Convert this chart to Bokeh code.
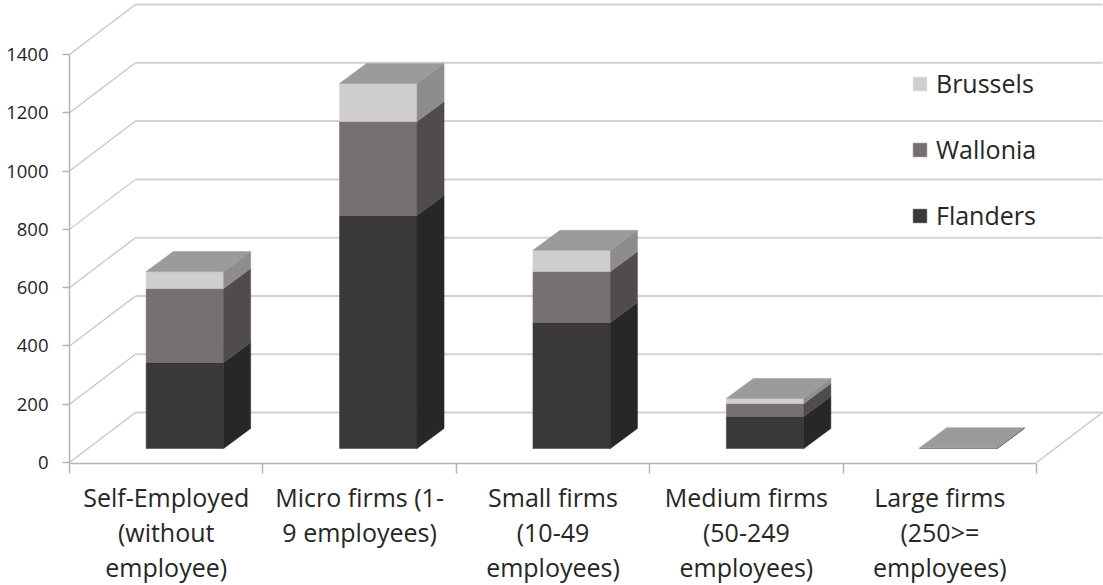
from bokeh.embed import file_html
from bokeh.resources import INLINE
from bokeh.plotting import figure
from bokeh.models import (ColumnDataSource, FixedTicker, Legend, LegendItem,
                          LinearAxis, Range1d)

categories = ["Self-Employed\n(without\nemployee)", "Micro firms (1-\n9 employees)",
              "Small firms\n(10-49\nemployees)", "Medium firms\n(50-249\nemployees)",
              "Large firms\n(250>=\nemployees)"]
flanders = [295, 800, 432, 110, 1]
wallonia = [254, 322, 175, 44, 1]
brussels = [58, 131, 73, 18, 1]
y_ticks = [0, 200, 400, 600, 800, 1000, 1200, 1400]

FRONT = {"Flanders": "#3a3838", "Wallonia": "#767170", "Brussels": "#d0cece"}
SIDE = {"Flanders": "#282727", "Wallonia": "#4f4c4b", "Brussels": "#8e8c8c"}
TOP = "#9b9b9b"
GRID = "#d2d2d2"
AXIS = "#b4b4b4"
FONT = "Open Sans"

# scale: pixels per category and per value unit
PX_X, PX_Y = 193.4, 0.2914
WALL_DX, WALL_DY = 66 / PX_X, 50 / PX_Y
BAR_DX, BAR_DY = 27 / PX_X, 20 / PX_Y
BAR_W = 77.5 / PX_X
BASE_DX, BASE_DY = 18.7 / PX_X, 14 / PX_Y
LEFT, BOTTOM_PX = 69, 463
W, H = 1103, 585

p = figure(frame_width=W - LEFT, frame_height=BOTTOM_PX, output_backend="svg", toolbar_location=None,
           x_range=Range1d(0, (W - LEFT) / PX_X),
           y_range=Range1d(-1 / PX_Y, 462 / PX_Y),
           x_axis_type=None, y_axis_type=None,
           min_border_left=LEFT, min_border_right=0, min_border_top=0,
           min_border_bottom=H - BOTTOM_PX)
p.margin = (0, 0, 0, 0)
p.outline_line_color = None
p.background_fill_color = "white"
p.border_fill_color = "white"

n = len(categories)
# back wall, side wall and floor lines, derived from the value scale
p.segment(x0=[WALL_DX] * len(y_ticks), x1=[n + WALL_DX] * len(y_ticks),
          y0=[t + WALL_DY for t in y_ticks], y1=[t + WALL_DY for t in y_ticks],
          line_color=GRID, line_width=2)
p.segment(x0=[0] * len(y_ticks), x1=[WALL_DX] * len(y_ticks),
          y0=y_ticks, y1=[t + WALL_DY for t in y_ticks],
          line_color="#c4c4c4", line_width=1.2)
p.segment(x0=[n], x1=[n + WALL_DX], y0=[0], y1=[WALL_DY], line_color="#c4c4c4", line_width=1.2)

series = [("Flanders", flanders), ("Wallonia", wallonia), ("Brussels", brussels)]
lefts = [i + (1 - BAR_W) / 2 + BASE_DX for i in range(n)]
rights = [l + BAR_W for l in lefts]
bottoms = [BASE_DY] * n
renderers = {}
for name, vals in series:
    tops = [b + v for b, v in zip(bottoms, vals)]
    src = ColumnDataSource(dict(left=lefts, right=rights, bottom=bottoms, top=tops))
    renderers[name] = p.quad(left="left", right="right", bottom="bottom", top="top", source=src,
                             fill_color=FRONT[name], line_color=FRONT[name], line_width=0.5)
    xs = [[r, r + BAR_DX, r + BAR_DX, r] for r in rights]
    ys = [[b, b + BAR_DY, t + BAR_DY, t] for b, t in zip(bottoms, tops)]
    p.patches(xs, ys, fill_color=SIDE[name], line_color=SIDE[name], line_width=0.5)
    bottoms = tops

xs = [[l, r, r + BAR_DX, l + BAR_DX] for l, r in zip(lefts, rights)]
ys = [[t, t, t + BAR_DY, t + BAR_DY] for t in bottoms]
p.patches(xs, ys, fill_color=TOP, line_color=TOP, line_width=0.5)

x_axis = LinearAxis(
    ticker=FixedTicker(ticks=[i + 0.5 for i in range(n)], minor_ticks=list(range(n + 1))),
    bounds=(0, n),
    major_label_overrides={i + 0.5: c for i, c in enumerate(categories)},
    major_tick_line_color=None, major_tick_in=0, major_tick_out=0,
    minor_tick_line_color=AXIS, minor_tick_line_width=1.5, minor_tick_in=0, minor_tick_out=10,
    axis_line_color=AXIS, axis_line_width=1.5,
    major_label_standoff=6, major_label_text_font=FONT, major_label_text_font_size="25px",
    major_label_text_color="#262626", major_label_text_line_height=1.04,
)
p.add_layout(x_axis, "below")

y_axis = LinearAxis(
    ticker=FixedTicker(ticks=y_ticks), bounds=(-1 / PX_Y, 1400),
    major_tick_line_color=AXIS, major_tick_line_width=1.5, major_tick_in=0, major_tick_out=7,
    minor_tick_line_color=None,
    axis_line_color=AXIS, axis_line_width=1.5,
    major_label_standoff=14, major_label_text_font=FONT, major_label_text_font_size="18.5px",
    major_label_text_color="#262626",
)
p.add_layout(y_axis, "left")

legend = Legend(
    items=[LegendItem(label=name, renderers=[renderers[name]]) for name in ["Brussels", "Wallonia", "Flanders"]],
    location=(842, 231), orientation="vertical", margin=0, padding=0,
    glyph_width=17, glyph_height=17, label_standoff=8, label_height=20, spacing=32,
    label_text_font=FONT, label_text_font_size="25px", label_text_color="#262626",
    background_fill_alpha=0, border_line_color=None,
)
p.add_layout(legend, "center")

open("out.html", "w").write(file_html(p, INLINE))
